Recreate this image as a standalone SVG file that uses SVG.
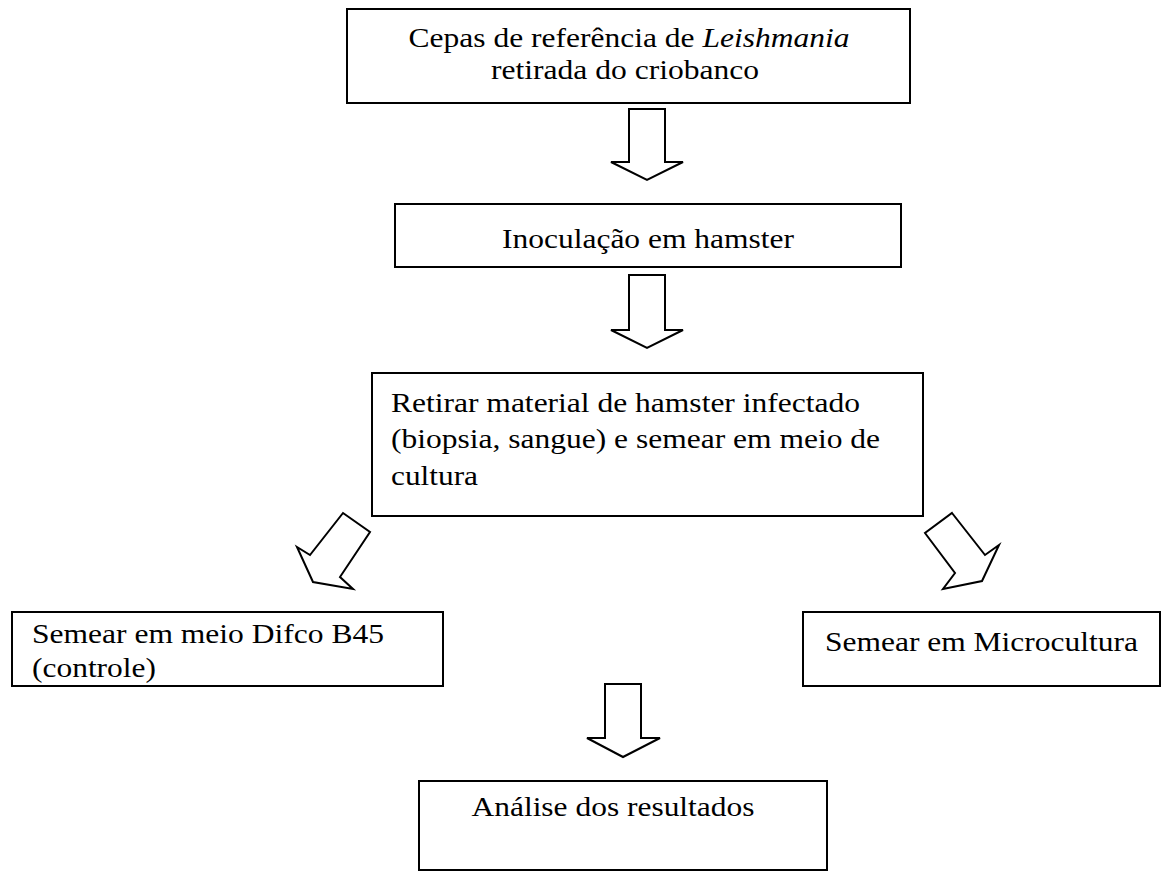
<svg xmlns="http://www.w3.org/2000/svg" width="1163" height="872" viewBox="0 0 1163 872">
<style>
.box{fill:#fff;stroke:#000;stroke-width:2}
.arr{fill:#fff;stroke:#000;stroke-width:2;stroke-linejoin:miter}
text{font-family:"Liberation Serif","Times New Roman",serif;font-size:28px;fill:#000}
.c{text-anchor:middle}
</style>
<rect width="1163" height="872" fill="#fff"/>
<g id="connectors">
<polygon class="arr" points="629,109 665,109 665,162 683,162 647,180 611,162 629,162"/>
<polygon class="arr" points="629,275 665,275 665,330 683,330 647,348 611,330 629,330"/>
<polygon class="arr" points="343,513 370,532 340,577 353,589 313,582 297,547 310,555"/>
<polygon class="arr" points="952,513 985,555 999,545 982,581 943,589 955,573 925,533"/>
<polygon class="arr" points="605,684 641,684 641,738 660,738 623,757 587,738 605,738"/>
</g>
<g id="n1">
<rect class="box" x="347" y="9" width="563" height="94"/>
<text class="c" x="629" y="47" textLength="441" lengthAdjust="spacingAndGlyphs">Cepas de referência de <tspan font-style="italic">Leishmania</tspan></text>
<text class="c" x="625" y="79" textLength="268" lengthAdjust="spacingAndGlyphs">retirada do criobanco</text>
</g>
<g id="n2">
<rect class="box" x="395" y="204" width="506" height="63"/>
<text class="c" x="648" y="248" textLength="292" lengthAdjust="spacingAndGlyphs">Inoculação em hamster</text>
</g>
<g id="n3">
<rect class="box" x="372" y="373" width="551" height="143"/>
<text x="391" y="412" textLength="469" lengthAdjust="spacingAndGlyphs">Retirar material de hamster infectado</text>
<text x="391" y="448" textLength="489" lengthAdjust="spacingAndGlyphs">(biopsia, sangue) e semear em meio de</text>
<text x="391" y="485" textLength="87" lengthAdjust="spacingAndGlyphs">cultura</text>
</g>
<g id="n4">
<rect class="box" x="12" y="612" width="431" height="74"/>
<text x="32" y="643" textLength="352" lengthAdjust="spacingAndGlyphs">Semear em meio Difco B45</text>
<text x="32" y="677" textLength="124" lengthAdjust="spacingAndGlyphs">(controle)</text>
</g>
<g id="n5">
<rect class="box" x="803" y="612" width="357" height="74"/>
<text x="825" y="651" textLength="313" lengthAdjust="spacingAndGlyphs">Semear em Microcultura</text>
</g>
<g id="n6">
<rect class="box" x="419" y="781" width="408" height="89"/>
<text class="c" x="613" y="816" textLength="283" lengthAdjust="spacingAndGlyphs">Análise dos resultados</text>
</g>
</svg>
